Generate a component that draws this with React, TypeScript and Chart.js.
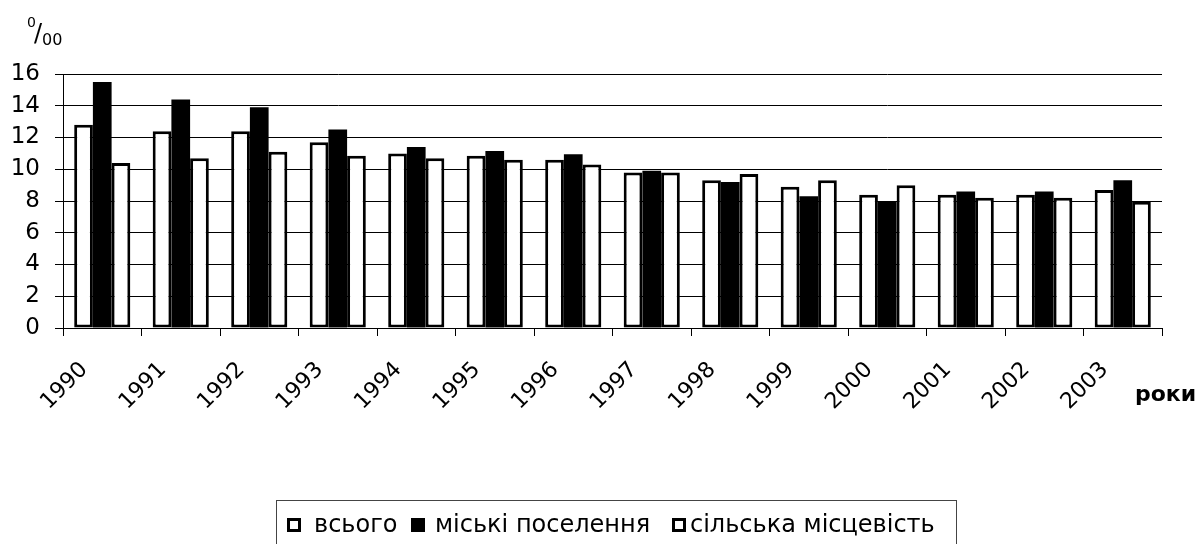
import React, { useEffect, useRef } from "react";
import { Chart, registerables } from "chart.js";

Chart.register(...registerables);

const years = ["1990", "1991", "1992", "1993", "1994", "1995", "1996", "1997", "1998", "1999", "2000", "2001", "2002", "2003"];
const totalValues = [12.8, 12.4, 12.4, 11.7, 11.0, 10.85, 10.6, 9.8, 9.3, 8.9, 8.4, 8.4, 8.4, 8.7];
const urbanValues = [15.5, 14.4, 13.9, 12.5, 11.4, 11.15, 10.95, 9.9, 9.2, 8.3, 8.0, 8.6, 8.6, 9.3];
const ruralValues = [10.4, 10.7, 11.1, 10.85, 10.7, 10.6, 10.3, 9.8, 9.7, 9.3, 9.0, 8.2, 8.2, 7.95];
const seriesNames = ["всього", "міські поселення", "сільська місцевість"];
const yMin = 0;
const yMax = 16;
const yStep = 2;
const xAxisTitle = "роки";
const yUnitParts = ["0", "/", "00"];

const FONT = '"DejaVu Sans", "Liberation Sans", Arial, sans-serif';

export default function App() {
  const ref = useRef<HTMLCanvasElement | null>(null);

  useEffect(() => {
    document.body.style.margin = "0";
    const canvas = ref.current;
    if (!canvas) return;

    const legendSquareX = [287, 411, 672];
    const legendTextX = [314, 435, 690];

    const decor = {
      id: "decor",
      afterDraw(chart: any) {
        const ctx = chart.ctx as CanvasRenderingContext2D;
        ctx.save();
        ctx.fillStyle = "#000";
        ctx.textBaseline = "alphabetic";
        ctx.textAlign = "left";
        // unit label 0/00
        ctx.font = `14px ${FONT}`;
        ctx.fillText(yUnitParts[0], 27, 27);
        ctx.font = `24px ${FONT}`;
        ctx.fillText(yUnitParts[1], 34, 41);
        ctx.font = `16px ${FONT}`;
        ctx.fillText(yUnitParts[2], 42, 45);
        // x axis title
        ctx.font = `bold 22px ${FONT}`;
        ctx.fillText(xAxisTitle, 1135, 401);
        // legend
        ctx.strokeStyle = "#444";
        ctx.lineWidth = 1;
        ctx.strokeRect(276.5, 500.5, 680, 44);
        ctx.font = `24px ${FONT}`;
        ctx.textBaseline = "alphabetic";
        chart.data.datasets.forEach((ds: any, i: number) => {
          const sx = legendSquareX[i];
          ctx.fillStyle = ds.backgroundColor;
          ctx.fillRect(sx, 518, 14, 14);
          ctx.strokeStyle = "#000";
          ctx.lineWidth = 3;
          ctx.strokeRect(sx + 1.5, 519.5, 11, 11);
          ctx.fillStyle = "#000";
          ctx.fillText(ds.label, legendTextX[i], 532);
        });
        ctx.restore();
      },
    };

    const common = {
      borderColor: "#000",
      borderSkipped: false as any,
      categoryPercentage: 0.715,
      barPercentage: 1.0,
    };

    const chart = new Chart(canvas, {
      type: "bar",
      data: {
        labels: years,
        datasets: [
          { label: seriesNames[0], data: totalValues, backgroundColor: "#fff", borderWidth: 3, ...common },
          { label: seriesNames[1], data: urbanValues, backgroundColor: "#000", borderWidth: 0, ...common },
          { label: seriesNames[2], data: ruralValues, backgroundColor: "#fff", borderWidth: 3, ...common },
        ],
      },
      options: {
        animation: false,
        responsive: false,
        maintainAspectRatio: false,
        devicePixelRatio: 1,
        layout: { padding: { left: 0, right: 33, top: 74, bottom: 0 } },
        plugins: {
          legend: { display: false },
          tooltip: { enabled: false },
          title: { display: false },
        },
        scales: {
          x: {
            grid: {
              display: true,
              drawOnChartArea: false,
              drawTicks: true,
              tickLength: 8,
              color: "#000",
              lineWidth: 1,
              offset: true,
            },
            border: { display: true, color: "#000", width: 1 },
            ticks: {
              color: "#000",
              font: { family: FONT, size: 22 },
              minRotation: 45,
              maxRotation: 45,
              autoSkip: false,
              padding: 21,
              labelOffset: -18,
            },
            afterFit(scale: any) {
              scale.height = 216;
            },
          },
          y: {
            min: yMin,
            max: yMax,
            ticks: {
              stepSize: yStep,
              autoSkip: false,
              color: "#000",
              font: { family: FONT, size: 23 },
              padding: 15,
            },
            grid: {
              color: "#000",
              lineWidth: 1,
              tickLength: 8,
              drawTicks: true,
            },
            border: { display: true, color: "#000", width: 1 },
            afterFit(scale: any) {
              scale.width = 63;
            },
          },
        },
      },
      plugins: [decor],
    });

    return () => chart.destroy();
  }, []);

  return (
    <div style={{ width: 1195, height: 544, background: "#fff" }}>
      <canvas ref={ref} width={1195} height={544} style={{ display: "block", width: 1195, height: 544 }} />
    </div>
  );
}
